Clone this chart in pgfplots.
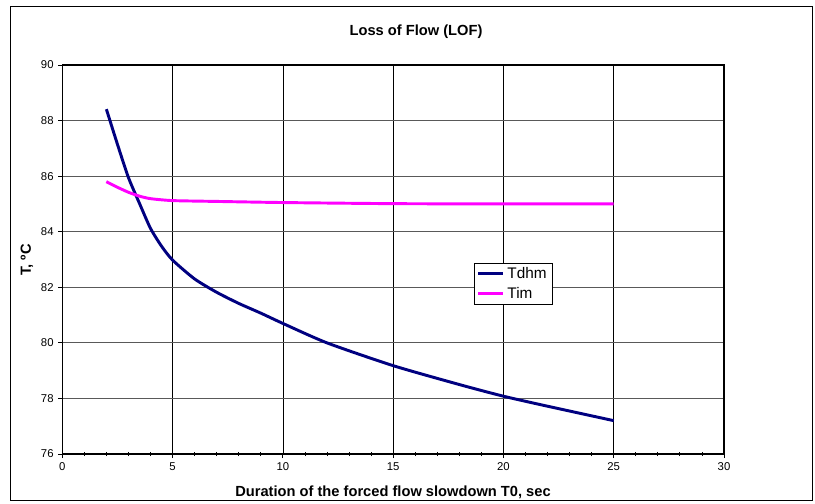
\documentclass[border=0pt]{standalone}
\usepackage{fontspec}
\setmainfont{Liberation Sans}
\usepackage{pgfplots}
\pgfplotsset{compat=1.18}
\definecolor{TdhmBlue}{HTML}{000080}
\definecolor{TimPink}{HTML}{FF00FF}

\begin{document}
\begin{tikzpicture}
\useasboundingbox (0,0) rectangle (611.25pt,378pt);
\draw[line width=0.75pt] (7.5pt,2.25pt) rectangle (609pt,372.75pt);
\begin{axis}[
  at={(46.7pt,37.5pt)}, anchor=south west,
  scale only axis, width=496.3pt, height=291.75pt,
  xmin=0, xmax=30, ymin=76, ymax=90,
  xtick={0,5,...,30}, ytick={76,78,...,90},
  minor x tick num=4,
  xtick pos=bottom, ytick pos=left,
  tick align=outside,
  major tick length=3pt, minor tick length=3pt,
  minor x tick style={yshift=1.5pt},
  tick style={black, line width=0.6pt},
  axis line style={black, line width=0.8pt},
  grid=major,
  x grid style={black, line width=0.5pt},
  y grid style={black!65, line width=0.7pt},
  ticklabel style={font=\fontsize{8.5}{10}\selectfont},
  /pgf/number format/assume math mode=true,
  legend style={at={(0.622,0.491)}, anchor=north west, draw=black, line width=0.5pt,
    font=\fontsize{11.5}{13}\selectfont, inner xsep=2pt, inner ysep=1pt,
    row sep=1pt, cells={anchor=west}},
  legend image code/.code={\draw[#1] (0pt,0pt) -- (18.75pt,0pt);},
]
\addplot[TdhmBlue, line width=2.2pt, smooth, tension=0.4] coordinates {
  (2,88.41) (2.5,87.15) (3,85.95) (3.5,85.02) (4,84.12) (4.5,83.48) (5,82.98)
  (6,82.30) (7,81.82) (8,81.42) (9,81.07) (10,80.70) (12,80.00) (15,79.18)
  (18,78.50) (20,78.08) (22,77.72) (25,77.20)};
\addlegendentry{Tdhm}
\addplot[TimPink, line width=2.2pt, smooth, tension=0.4] coordinates {
  (2,85.80) (2.5,85.60) (3,85.42) (3.5,85.28) (4,85.19) (5,85.12) (7,85.09)
  (10,85.05) (15,85.01) (20,85.00) (25,85.00)};
\addlegendentry{Tim}
\end{axis}
\node[font=\bfseries\fontsize{11}{13}\selectfont] at (312pt,354pt) {Loss of Flow (LOF)};
\node[font=\bfseries\fontsize{11}{13}\selectfont] at (294.75pt,9pt) {Duration of the forced flow slowdown T0, sec};
\node[font=\bfseries\fontsize{11}{13}\selectfont, rotate=90] at (20.25pt,183pt) {T, ºC};
\end{tikzpicture}
\end{document}
